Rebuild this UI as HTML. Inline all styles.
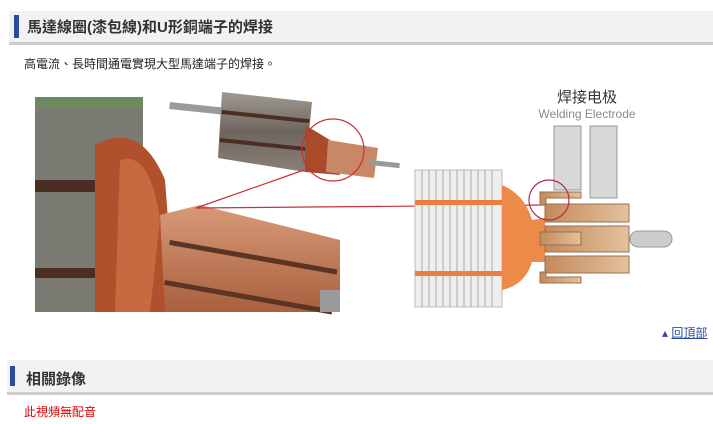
<!DOCTYPE html>
<html><head><meta charset="utf-8"><style>
body{margin:0;width:713px;height:424px;background:#fff;position:relative;overflow:hidden;font-family:"Liberation Sans","Noto Sans CJK TC",sans-serif}
.h{position:absolute;background:#f2f2f2;border-bottom:3px solid #ccc}
.bar{position:absolute;background:#2a4aa0;width:5px}
.t{position:absolute;font-weight:bold;color:#333;font-size:15px}
</style></head><body>
<div class="h" style="left:9px;top:11px;width:704px;height:31px"></div>
<div class="bar" style="left:14px;top:15px;height:23px"></div>
<div class="t" style="left:27px;top:16px">馬達線圈(漆包線)和U形銅端子的焊接</div>
<div style="position:absolute;left:24px;top:55px;font-size:12px;color:#222">高電流、長時間通電實現大型馬達端子的焊接。</div>

<svg style="position:absolute;left:0;top:0" width="713" height="424">
<defs>
<linearGradient id="cu" x1="0" y1="0" x2="0" y2="1"><stop offset="0" stop-color="#d99a78"/><stop offset="1" stop-color="#a8603e"/></linearGradient>
<linearGradient id="gr" x1="0" y1="0" x2="0" y2="1"><stop offset="0" stop-color="#a09a92"/><stop offset=".5" stop-color="#6e665e"/><stop offset="1" stop-color="#8a8078"/></linearGradient>
<linearGradient id="cb" x1="0" y1="0" x2="1" y2="0"><stop offset="0" stop-color="#c48a5a"/><stop offset="1" stop-color="#e2c29e"/></linearGradient>
</defs>
<!-- left photo -->
<rect x="35" y="97" width="108" height="215" fill="#7a7a72"/>
<rect x="35" y="97" width="108" height="10" fill="#6d8a5e"/>
<rect x="35" y="180" width="100" height="12" fill="#4a2e24"/>
<rect x="35" y="268" width="100" height="10" fill="#4a2e24"/>
<path d="M95 145 Q140 120 165 180 L175 312 L95 312 Z" fill="#b0502c"/>
<path d="M120 160 Q150 150 160 220 L150 312 L115 312 Z" fill="#c86a40"/>
<path d="M160 215 L200 205 L340 240 L340 312 L165 312 Z" fill="url(#cu)"/>
<rect x="170" y="240" width="170" height="5" fill="#5a3424" transform="rotate(10 170 240)"/>
<rect x="165" y="280" width="170" height="5" fill="#5a3424" transform="rotate(10 165 280)"/>
<rect x="320" y="290" width="20" height="22" fill="#999"/>
<!-- top armature -->
<rect x="170" y="102" width="55" height="7" fill="#9a9a9a" transform="rotate(6 170 102)"/>
<path d="M222 92 L312 102 L305 172 L218 158 Z" fill="url(#gr)"/>
<rect x="222" y="110" width="88" height="4" fill="#4a2e24" transform="rotate(6 222 110)"/>
<rect x="220" y="138" width="88" height="4" fill="#4a2e24" transform="rotate(6 220 138)"/>
<path d="M305 125 L330 140 L340 175 L305 172 Z" fill="#a94a2a"/>
<path d="M328 140 L378 148 L374 178 L326 172 Z" fill="#c88868"/>
<rect x="370" y="160" width="30" height="5" fill="#999" transform="rotate(6 370 160)"/>
<circle cx="333" cy="150" r="31" fill="none" stroke="#c8303a" stroke-width="1.2"/>
<line x1="196" y1="208" x2="304" y2="170" stroke="#c8303a" stroke-width="1.2"/>
<line x1="196" y1="208" x2="546" y2="205" stroke="#c8303a" stroke-width="1.2"/>
<!-- right diagram -->
<rect x="415" y="170" width="87" height="137" fill="#eeeeee" stroke="#bbb"/>
<g stroke="#aaa" stroke-width="1">
<line x1="422" y1="170" x2="422" y2="307"/><line x1="429" y1="170" x2="429" y2="307"/><line x1="436" y1="170" x2="436" y2="307"/><line x1="443" y1="170" x2="443" y2="307"/><line x1="450" y1="170" x2="450" y2="307"/><line x1="457" y1="170" x2="457" y2="307"/><line x1="464" y1="170" x2="464" y2="307"/><line x1="471" y1="170" x2="471" y2="307"/><line x1="478" y1="170" x2="478" y2="307"/><line x1="485" y1="170" x2="485" y2="307"/><line x1="492" y1="170" x2="492" y2="307"/></g>
<rect x="415" y="200" width="90" height="5" fill="#e9803e"/>
<rect x="415" y="271" width="90" height="5" fill="#e9803e"/>
<path d="M502 185 Q525 195 532 220 L545 218 L545 262 L532 262 Q525 285 502 290 Z" fill="#ec8a4a"/>
<rect x="554" y="126" width="27" height="64" fill="#d8d8d8" stroke="#999"/>
<rect x="590" y="126" width="27" height="72" fill="#d8d8d8" stroke="#999"/>
<rect x="630" y="231" width="42" height="16" rx="8" fill="#ccc" stroke="#999"/>
<g fill="url(#cb)" stroke="#9a7050" stroke-width="1">
<path d="M540 192 H581 V198 H546 V205 H540 Z"/>
<rect x="545" y="204" width="84" height="18"/>
<rect x="545" y="226" width="84" height="26"/>
<rect x="540" y="232" width="41" height="13"/>
<rect x="545" y="256" width="84" height="17"/>
<path d="M540 272 H546 V277 H581 V283 H540 Z"/>
</g>
<circle cx="549" cy="200" r="20" fill="none" stroke="#b03048" stroke-width="1.2"/>
<text x="587" y="102" font-size="15" text-anchor="middle" fill="#333" font-family="Liberation Sans,Noto Sans CJK SC,sans-serif">焊接电极</text>
<text x="587" y="118" font-size="12" text-anchor="middle" fill="#8a8a8a" font-family="Liberation Sans,sans-serif">Welding Electrode</text>
</svg>

<div style="position:absolute;left:662px;top:324px;font-size:12px;color:#2a4aa0">▴ <span style="text-decoration:underline">回頂部</span></div>
<div class="h" style="left:7px;top:360px;width:706px;height:32px"></div>
<div class="bar" style="left:10px;top:366px;height:20px"></div>
<div class="t" style="left:26px;top:368px">相關錄像</div>
<div style="position:absolute;left:24px;top:403px;font-size:12px;color:#d00">此視頻無配音</div>
</body></html>
